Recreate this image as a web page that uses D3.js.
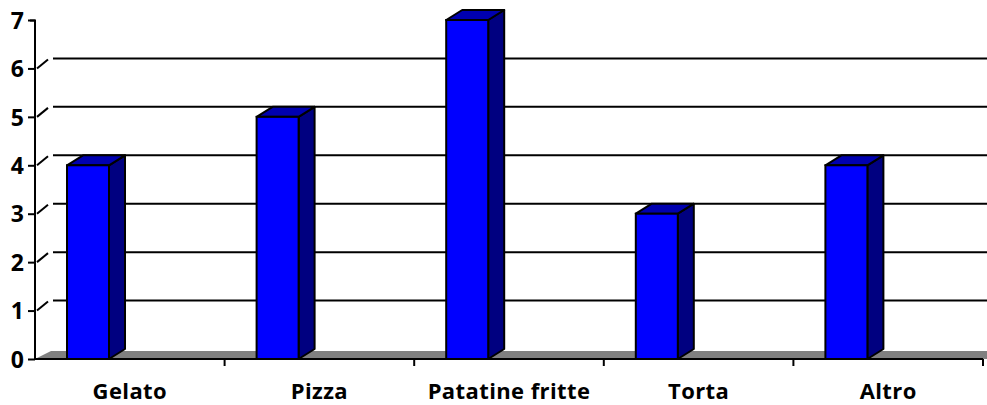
<!DOCTYPE html>
<html>
<head>
<meta charset="utf-8">
<script src="https://cdn.jsdelivr.net/npm/d3@7"></script>
<style>
  body { margin: 0; background: #fff; }
  svg { display: block; }
  text { font-family: "Open Sans", "Liberation Sans", sans-serif; font-weight: bold; fill: #000; }
</style>
</head>
<body>
<svg id="chart" width="987" height="405"></svg>
<script>
const categories = ['Gelato', 'Pizza', 'Patatine fritte', 'Torta', 'Altro']
const values = [4, 5, 7, 3, 4]
const yTicks = [0, 1, 2, 3, 4, 5, 6, 7]

const margin = { top: 20, right: 2, bottom: 46, left: 35 }
const width = 987 - margin.left - margin.right
const height = 405 - margin.top - margin.bottom
const depth = { dx: 16, dy: -10 }

const svg = d3.select('#chart')
const chart = svg.append('g')
    .attr('transform', `translate(${margin.left},${margin.top})`)

const x = d3.scaleBand()
    .domain(categories)
    .range([0, width - 2])

const y = d3.scaleLinear()
    .domain([0, 7])
    .range([height, 0])

const barW = 42
const barOff = 32

// gridlines on back wall, with diagonal joins to the axis
const grid = yTicks.filter(t => t > 0 && t < 7)
chart.selectAll('.grid')
    .data(grid)
    .join('line')
        .attr('x1', depth.dx + 2)
        .attr('x2', width + 10)
        .attr('y1', d => y(d) + depth.dy)
        .attr('y2', d => y(d) + depth.dy)
        .attr('stroke', '#000')
        .attr('stroke-width', 2)
chart.selectAll('.diag')
    .data(grid)
    .join('line')
        .attr('x1', 2)
        .attr('x2', depth.dx - 3)
        .attr('y1', d => y(d))
        .attr('y2', d => y(d) + depth.dy + 1)
        .attr('stroke', '#000')
        .attr('stroke-width', 2)

// floor
chart.append('path')
    .attr('d', `M0,${y(0)} L${depth.dx},${y(0) + depth.dy + 2} L${width + 10},${y(0) + depth.dy + 2} L${width + 10},${y(0)} Z`)
    .attr('fill', '#808080')

// bars
const bars = chart.selectAll('.bar')
    .data(categories.map((c, i) => ({ cat: c, val: values[i] })))
    .join('g')
        .attr('class', 'bar')

bars.append('path')
    .attr('d', d => {
        const x0 = x(d.cat) + barOff + barW, yt = y(d.val), yb = y(0)
        return `M${x0},${yt} L${x0 + depth.dx},${yt + depth.dy} L${x0 + depth.dx},${yb + depth.dy} L${x0},${yb} Z`
    })
    .attr('fill', '#000080')
    .attr('stroke', '#000')
    .attr('stroke-width', 2)
    .attr('stroke-linejoin', 'round')

bars.append('path')
    .attr('d', d => {
        const x0 = x(d.cat) + barOff, yt = y(d.val)
        return `M${x0},${yt} L${x0 + depth.dx},${yt + depth.dy} L${x0 + barW + depth.dx},${yt + depth.dy} L${x0 + barW},${yt} Z`
    })
    .attr('fill', '#0000b0')
    .attr('stroke', '#000')
    .attr('stroke-width', 2)
    .attr('stroke-linejoin', 'round')

bars.append('rect')
    .attr('x', d => x(d.cat) + barOff)
    .attr('y', d => y(d.val))
    .attr('width', barW)
    .attr('height', d => y(0) - y(d.val))
    .attr('fill', '#0000ff')
    .attr('stroke', '#000')
    .attr('stroke-width', 2)

// y axis
const yAxis = d3.axisLeft(y).tickValues(yTicks).tickSize(7).tickPadding(4).tickFormat(d3.format('d'))
const yAxisG = chart.append('g').call(yAxis)
yAxisG.select('.domain').attr('stroke-width', 2).attr('d', `M-5,0.5H0V${height}`)
yAxisG.selectAll('.tick line').attr('stroke-width', 2)
yAxisG.selectAll('.tick text').style('font-size', '23px').attr('dy', '0.36em')

// x axis
const xAxis = d3.axisBottom(x).tickSize(0)
const xAxisG = chart.append('g')
    .attr('transform', `translate(0,${height})`)
    .call(xAxis)
xAxisG.select('.domain').attr('stroke-width', 2).attr('d', `M0,0H${width - 2}`)
xAxisG.selectAll('.tick text')
    .style('font-size', '22px')
    .style('letter-spacing', '0.4px')
    .attr('y', 40)
    .attr('dy', 0)

chart.append('g')
    .attr('transform', `translate(0,${height})`)
    .selectAll('line')
    .data(categories.map(c => x(c) + x.bandwidth()))
    .join('line')
        .attr('x1', d => d)
        .attr('x2', d => d)
        .attr('y1', 0)
        .attr('y2', 7)
        .attr('stroke', '#000')
        .attr('stroke-width', 2)
</script>
</body>
</html>
